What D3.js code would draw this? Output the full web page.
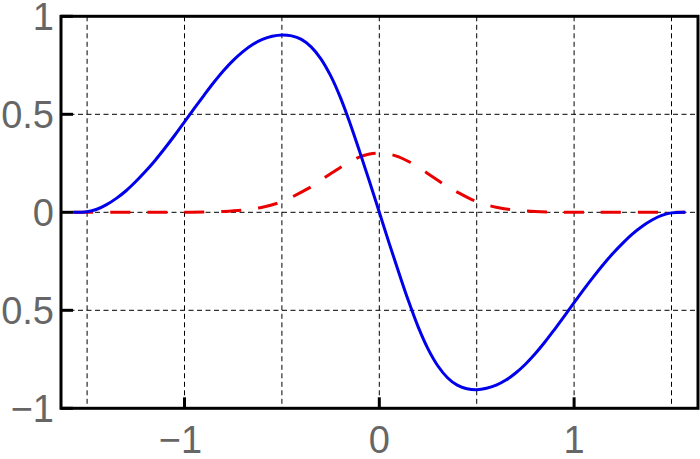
<!DOCTYPE html>
<html>
<head>
<meta charset="utf-8">
<script src="https://cdn.jsdelivr.net/npm/d3@7"></script>
<style>
  html, body { margin: 0; padding: 0; background: #fff; }
  svg { display: block; }
</style>
</head>
<body>
<svg id="chart" width="700" height="459"></svg>
<script>
// ---- data ----
const blueX = [-1.571, -1.5, -1.45, -1.4, -1.35, -1.3, -1.25, -1.2, -1.15, -1.1, -1.05, -1.0, -0.95, -0.9, -0.85, -0.8, -0.75, -0.7, -0.65, -0.6, -0.55, -0.5,
               -0.45, -0.4, -0.35, -0.3, -0.25, -0.2, -0.15, -0.1, -0.05, 0,
               0.05, 0.1, 0.15, 0.2, 0.25, 0.3, 0.35, 0.4, 0.45, 0.5,
               0.55, 0.6, 0.65, 0.7, 0.75, 0.8, 0.85, 0.9, 0.95, 1.0, 1.05, 1.1, 1.15, 1.2, 1.25, 1.3, 1.35, 1.4, 1.45, 1.5, 1.571];
const blueY = [0, 0.003, 0.0155, 0.039, 0.071, 0.11, 0.157, 0.209, 0.266, 0.328, 0.393, 0.461, 0.53, 0.597, 0.662, 0.722, 0.775, 0.82, 0.856, 0.882, 0.898, 0.905,
               0.9, 0.882, 0.844, 0.783, 0.697, 0.586, 0.453, 0.307, 0.156, 0,
               -0.156, -0.307, -0.453, -0.586, -0.697, -0.783, -0.844, -0.882, -0.9, -0.905,
               -0.898, -0.882, -0.856, -0.82, -0.775, -0.722, -0.662, -0.597, -0.53, -0.461, -0.393, -0.328, -0.266, -0.209, -0.157, -0.11, -0.071, -0.039, -0.0155, -0.003, 0];
const redX = [-1.571, -1.2, -1.0, -0.9, -0.8, -0.7, -0.6, -0.5, -0.4, -0.35, -0.3, -0.25, -0.2, -0.15, -0.1, -0.05, 0,
              0.05, 0.1, 0.15, 0.2, 0.25, 0.3, 0.35, 0.4, 0.5, 0.6, 0.7, 0.8, 0.9, 1.0, 1.2, 1.571];
const redY = [0, 0, 0, 0.001, 0.004, 0.011, 0.026, 0.054, 0.103, 0.13, 0.164, 0.197, 0.229, 0.259, 0.283, 0.297, 0.302,
              0.297, 0.283, 0.259, 0.229, 0.197, 0.164, 0.13, 0.103, 0.054, 0.026, 0.011, 0.004, 0.001, 0, 0, 0];
const xTicks = [-1, 0, 1];
const xTickLabels = ["\u22121", "0", "1"];
const yTicks = [-1, -0.5, 0, 0.5, 1];
const yTickLabels = ["\u22121", "\u22120.5", "0", "0.5", "1"];
const xGrid = [-1.5, -1, -0.5, 0, 0.5, 1, 1.5];
const yGrid = [-0.5, 0, 0.5];

// ---- layout ----
const svg = d3.select("#chart");
const pL = 61, pR = 698, pT = 16.3, pB = 408.3;
const x = d3.scaleLinear().domain([-1.634, 1.636]).range([pL, pR]);
const y = d3.scaleLinear().domain([-1, 1]).range([pB, pT]);

// grid
const g = svg.append("g");
g.selectAll("line.vg").data(xGrid).enter().append("line")
  .attr("x1", d => x(d)).attr("x2", d => x(d)).attr("y1", pT).attr("y2", pB)
  .attr("stroke", "#000").attr("stroke-width", 1).attr("stroke-dasharray", "5,3.5");
g.selectAll("line.hg").data(yGrid).enter().append("line")
  .attr("x1", pL).attr("x2", pR).attr("y1", d => y(d)).attr("y2", d => y(d))
  .attr("stroke", "#000").attr("stroke-width", 1).attr("stroke-dasharray", "5,3.5");

// curves
const redData = redX.map((v, i) => [v, redY[i]]);
const blueData = blueX.map((v, i) => [v, blueY[i]]);
svg.append("path").datum(redData)
  .attr("d", d3.line().x(d => x(d[0])).y(d => y(d[1])).curve(d3.curveCatmullRom.alpha(0.5)))
  .attr("fill", "none").attr("stroke", "rgb(235,0,0)").attr("stroke-width", 3)
  .attr("stroke-dasharray", "20,17");
svg.append("path").datum(blueData)
  .attr("d", d3.line().x(d => x(d[0])).y(d => y(d[1])).curve(d3.curveCatmullRom.alpha(0.5)))
  .attr("fill", "none").attr("stroke", "rgb(0,0,235)").attr("stroke-width", 3);

// ticks (inward)
svg.selectAll("line.xt").data(xTicks).enter().append("line")
  .attr("x1", d => x(d)).attr("x2", d => x(d)).attr("y1", pB).attr("y2", pB - 11)
  .attr("stroke", "#000").attr("stroke-width", 3);
svg.selectAll("line.yt").data(yTicks).enter().append("line")
  .attr("x1", pL).attr("x2", pL + 12).attr("y1", d => y(d)).attr("y2", d => y(d))
  .attr("stroke", "#000").attr("stroke-width", 3);

// frame
svg.append("rect").attr("x", pL).attr("y", pT).attr("width", pR - pL).attr("height", pB - pT)
  .attr("fill", "none").attr("stroke", "#000").attr("stroke-width", 3);

// labels
const font = "'Liberation Sans', Arial, sans-serif";
svg.selectAll("text.xl").data(xTicks).enter().append("text")
  .attr("x", d => x(d) - (d < 0 ? 4 : 0)).attr("y", 453)
  .attr("text-anchor", "middle").attr("font-family", font).attr("font-size", 38)
  .attr("fill", "#666").text((d, i) => xTickLabels[i]);
svg.selectAll("text.yl").data(yTicks).enter().append("text")
  .attr("x", 54).attr("y", d => y(d) + 14)
  .attr("text-anchor", "end").attr("font-family", font).attr("font-size", 38)
  .attr("fill", "#666").text((d, i) => yTickLabels[i]);
</script>
</body>
</html>
